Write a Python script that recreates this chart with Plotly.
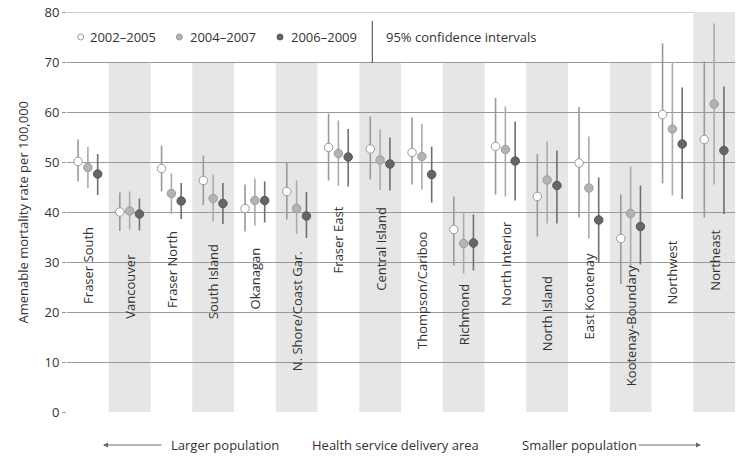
import plotly.graph_objects as go

categories = ["Fraser South", "Vancouver", "Fraser North", "South Island", "Okanagan",
              "N. Shore/Coast Gar.", "Fraser East", "Central Island", "Thompson/Cariboo",
              "Richmond", "North Interior", "North Island", "East Kootenay",
              "Kootenay-Boundary", "Northwest", "Northeast"]

rate_2002 = [50.1, 40.0, 48.7, 46.3, 40.7, 44.1, 52.9, 52.6, 51.9, 36.5, 53.1, 43.1, 49.8, 34.7, 59.5, 54.5]
lo_2002 = [46.1, 36.2, 44.1, 41.4, 36.1, 38.5, 46.3, 46.5, 45.5, 29.3, 43.5, 35.1, 38.9, 25.6, 45.7, 38.9]
hi_2002 = [54.5, 43.9, 53.3, 51.3, 45.5, 50.0, 59.7, 59.1, 58.9, 43.1, 62.8, 51.6, 61.0, 43.5, 73.7, 70.1]

rate_2004 = [48.9, 40.2, 43.7, 42.7, 42.3, 40.7, 51.7, 50.4, 51.1, 33.7, 52.5, 46.4, 44.8, 39.7, 56.6, 61.6]
lo_2004 = [44.8, 36.5, 39.6, 38.1, 37.3, 35.6, 45.3, 44.4, 44.5, 27.7, 43.1, 37.7, 34.7, 28.8, 43.3, 45.5]
hi_2004 = [53.0, 44.1, 47.7, 47.5, 46.7, 46.3, 58.3, 56.5, 57.6, 39.9, 61.1, 54.1, 55.1, 49.1, 70.0, 77.7]

rate_2006 = [47.6, 39.6, 42.2, 41.7, 42.3, 39.2, 51.0, 49.6, 47.5, 33.8, 50.2, 45.3, 38.4, 37.1, 53.6, 52.3]
lo_2006 = [43.4, 36.3, 38.6, 37.6, 37.9, 34.8, 45.1, 44.3, 41.9, 28.3, 42.3, 37.7, 29.8, 29.5, 42.6, 39.6]
hi_2006 = [51.6, 42.7, 45.8, 45.8, 46.1, 44.0, 56.6, 54.9, 53.1, 39.5, 58.1, 52.3, 46.9, 45.3, 64.9, 65.1]

period_names = ["2002–2005", "2004–2007", "2006–2009"]
y_ticks = [0, 10, 20, 30, 40, 50, 60, 70, 80]

# layout-only helpers (label placement in axis units)
label_top = [37.5, 32.1, 36.6, 33.9, 33.3, 32.5, 41.5, 41.5, 36.5, 26.0, 38.6, 27.5, 32.1, 29.8, 34.8, 36.8]

FONT = "Open Sans"
TXT = "#333333"
GRID = "#999999"

series = [
    (rate_2002, lo_2002, hi_2002, "#ffffff", "#999999", "#9a9a9a", -0.235),
    (rate_2004, lo_2004, hi_2004, "#b3b3b3", "#9c9c9c", "#aaaaaa", 0.0),
    (rate_2006, lo_2006, hi_2006, "#666666", "#555555", "#707070", 0.235),
]

fig = go.Figure()
n = len(categories)
idx = list(range(n))

for (vals, lo, hi, fill, edge, ci, off), name in zip(series, period_names):
    fig.add_trace(go.Scatter(
        x=[i + off for i in idx], y=vals, mode="markers", name=name,
        marker=dict(size=8.5, color=fill, line=dict(color=edge, width=1)),
        error_y=dict(type="data", symmetric=False,
                     array=[h - v for h, v in zip(hi, vals)],
                     arrayminus=[v - l for v, l in zip(vals, lo)],
                     width=0, thickness=1.6, color=ci),
        customdata=categories, hovertemplate="%{customdata}: %{y}<extra>" + name + "</extra>",
        showlegend=False,
    ))

shapes = []
for i in idx:
    if i % 2 == 1:
        shapes.append(dict(type="rect", xref="x", yref="y", x0=i - 0.5, x1=i + 0.5,
                           y0=0, y1=y_ticks[-1] if i == n - 1 else y_ticks[-2],
                           fillcolor="#e6e6e6", line=dict(width=0), layer="below"))
# top grid line (Plotly omits the gridline on the range edge)
shapes.append(dict(type="line", xref="paper", yref="y", x0=0, x1=1, y0=y_ticks[-1], y1=y_ticks[-1],
                   line=dict(color=GRID, width=1), layer="below"))

annotations = []
for i, (c, t) in enumerate(zip(categories, label_top)):
    annotations.append(dict(x=i, y=t, xref="x", yref="y", text=c, showarrow=False,
                            textangle=-90, xanchor="center", yanchor="top",
                            font=dict(family=FONT, size=13, color=TXT)))

# page body margin is removed by post_script, so figure sits at page (0,0)
OFF = 0
W, H = 750 - OFF, 457 - OFF
PL, PW, PT, PH = 67 - OFF, 668, 12 - OFF, 400

def px(x):  # page pixel -> paper x
    return (x - OFF - PL) / PW

def py(y):  # page pixel -> paper y
    return (PT + PH - (y - OFF)) / PH

leg_y = py(37)
leg_marker_x = [80.7, 179.3, 280.0]
leg_text_x = [88.0, 188.0, 289.0]
for (vals, lo, hi, fill, edge, ci, off), name, mx, tx in zip(series, period_names, leg_marker_x, leg_text_x):
    shapes.append(dict(type="circle", xref="paper", yref="paper", xsizemode="pixel", ysizemode="pixel",
                       xanchor=px(mx), yanchor=leg_y, x0=-3, x1=3, y0=-3, y1=3,
                       fillcolor=fill, line=dict(color=edge, width=1)))
    annotations.append(dict(x=px(tx), y=leg_y, xref="paper", yref="paper", text=name,
                            showarrow=False, xanchor="left", yanchor="middle",
                            font=dict(family=FONT, size=13, color=TXT)))
shapes.append(dict(type="line", xref="paper", yref="paper", x0=px(372.3), x1=px(372.3),
                   y0=py(21), y1=py(63), line=dict(color="#444444", width=1)))
annotations.append(dict(x=px(384), y=leg_y, xref="paper", yref="paper", text="95% confidence intervals",
                        showarrow=False, xanchor="left", yanchor="middle",
                        font=dict(family=FONT, size=13, color=TXT)))

# y-axis title
annotations.append(dict(x=px(22.5), y=0.5, xref="paper", yref="paper",
                        text="Amenable mortality rate per 100,000", showarrow=False,
                        textangle=-90, xanchor="center", yanchor="middle",
                        font=dict(family=FONT, size=13, color=TXT)))

# bottom captions
by = py(445)
annotations += [
    dict(x=px(169), y=by, xref="paper", yref="paper", text="Larger population", showarrow=False,
         xanchor="left", yanchor="middle", font=dict(family=FONT, size=13, color=TXT)),
    dict(x=px(395), y=by, xref="paper", yref="paper", text="Health service delivery area", showarrow=False,
         xanchor="center", yanchor="middle", font=dict(family=FONT, size=13, color=TXT)),
    dict(x=px(520), y=by, xref="paper", yref="paper", text="Smaller population", showarrow=False,
         xanchor="left", yanchor="middle", font=dict(family=FONT, size=13, color=TXT)),
    dict(x=px(103), y=by, xref="paper", yref="paper", text="", showarrow=True,
         ax=60, ay=0, arrowhead=2, arrowsize=1, arrowwidth=1, arrowcolor="#666666"),
    dict(x=px(701), y=by, xref="paper", yref="paper", text="", showarrow=True,
         ax=-64, ay=0, arrowhead=2, arrowsize=1, arrowwidth=1, arrowcolor="#666666"),
]

fig.update_layout(
    width=W, height=H,
    margin=dict(l=PL, r=W - PL - PW, t=PT, b=H - PT - PH, autoexpand=False),
    paper_bgcolor="white", plot_bgcolor="white",
    font=dict(family=FONT, size=13, color=TXT),
    shapes=shapes, annotations=annotations, showlegend=False,
    xaxis=dict(range=[-0.5, n - 0.5], showgrid=False, zeroline=False, showticklabels=False,
               ticks="", showline=False, fixedrange=True),
    yaxis=dict(range=[y_ticks[0], y_ticks[-1]], tickvals=y_ticks, showgrid=True, gridcolor=GRID, gridwidth=1,
               zeroline=False, showline=False, ticks="outside", ticklen=4, tickcolor=GRID,
               ticklabeloverflow="allow",
               tickfont=dict(family=FONT, size=13, color=TXT), automargin=False, fixedrange=True),
)

fig.write_html("out.html", config={"displayModeBar": False},
               post_script="document.body.style.margin='0px';document.body.style.overflow='hidden';")
